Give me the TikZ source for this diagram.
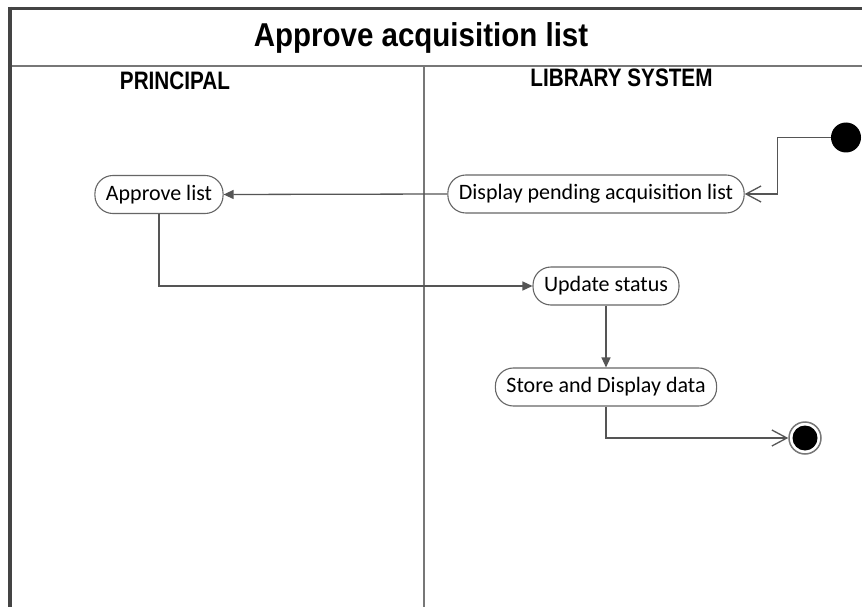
\documentclass[tikz,border=0pt]{standalone}
\usepackage{fontspec}
\setmainfont{Liberation Sans}
\newfontfamily\nodefont{Carlito}
\usetikzlibrary{arrows.meta}
\definecolor{framecol}{HTML}{444444}
\definecolor{divcol}{HTML}{777777}
\definecolor{linecol}{HTML}{555555}
\definecolor{boxcol}{HTML}{666666}
\tikzset{
  actbox/.style={draw=boxcol, line width=1.1pt, rectangle, rounded corners=18pt,
    minimum height=38pt, inner xsep=11pt, inner ysep=0pt, fill=white,
    font=\nodefont\fontsize{22}{24}\selectfont},
  flow/.style={draw=linecol, line width=1.3pt, -{Triangle[length=10pt,width=9pt]}},
  openflow/.style={draw=linecol, line width=1.3pt, -{Straight Barb[length=15pt,width=16pt,line width=1.3pt]}},
  hdr/.style={anchor=base, font=\bfseries\fontsize{20.7}{22}\selectfont},
}
\begin{document}
\begin{tikzpicture}[x=1pt,y=-1pt]
\clip (0,0) rectangle (862,607);
\fill[white] (0,0) rectangle (862,607);
% frame
\draw[framecol, line width=3pt] (8,8.5) -- (870,8.5);
\draw[framecol, line width=4pt] (10,7) -- (10,615);
\draw[divcol, line width=1.6pt] (12,66) -- (870,66);
\draw[divcol, line width=1.6pt] (424,66) -- (424,615);
% texts
\node[anchor=base, font=\bfseries\fontsize{29.5}{31}\selectfont] (title) at (421,46.5) {\scalebox{1}[1.12]{Approve acquisition list}};
\node[hdr] (lane1) at (175,90) {\scalebox{1}[1.22]{PRINCIPAL}};
\node[hdr] (lane2) at (621.5,87) {\scalebox{1}[1.22]{LIBRARY SYSTEM}};
% nodes
\node[circle, fill=black, inner sep=0pt, minimum size=30pt] (start) at (846,137.5) {};
\node[actbox] (disp) at (596,194) {Display pending acquisition list};
\node[actbox] (appr) at (159,194.5) {Approve list};
\node[actbox] (upd) at (606,286) {Update status};
\node[actbox] (store) at (606,387) {Store and Display data};
\node[circle, draw=divcol, line width=1.5pt, inner sep=0pt, minimum size=32pt] (end) at (805,438) {};
\fill[black] (end.center) circle (12.5pt);
% connectors
\draw[openflow] (start.west) -- ++(-53,0) |- (disp.east);
\draw[flow] (disp.west) -- (appr.east);
\draw[flow] (appr.south) |- (upd.west);
\draw[flow] (upd.south) -- (store.north);
\draw[openflow] (store.south) |- (end.west);
\end{tikzpicture}
\end{document}
